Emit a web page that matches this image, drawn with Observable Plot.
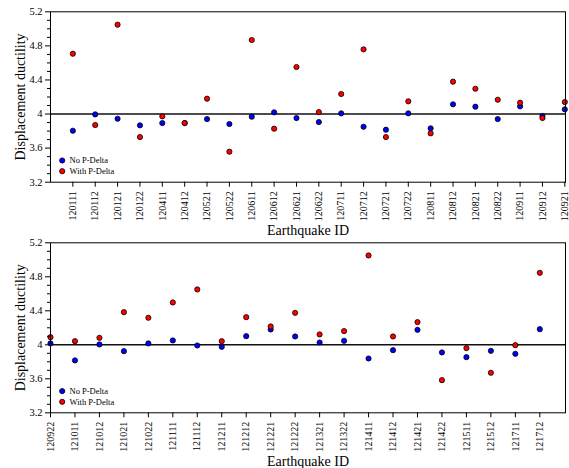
<!DOCTYPE html>
<html>
<head>
<meta charset="utf-8">
<script src="https://cdn.jsdelivr.net/npm/d3@7"></script>
<script src="https://cdn.jsdelivr.net/npm/@observablehq/plot@0.6"></script>
<style>
  body { margin: 0; background: #fff; }
  #c { position: relative; width: 569px; height: 468px; }
  #c svg { position: absolute; left: 0; background: transparent !important; overflow: visible !important; }
  #c svg, #c svg g, #c svg text { font-family: "Liberation Serif" !important; }
</style>
</head>
<body>
<div id="c"></div>
<script>
// ---- Data ----
const topIds = ["120111","120112","120121","120122","120411","120412","120521","120522","120611","120612","120621","120622","120711","120712","120721","120722","120811","120812","120821","120822","120911","120912","120921"];
const topNoPDelta = [3.804,3.996,3.945,3.867,3.894,3.894,3.941,3.883,3.969,4.020,3.953,3.906,4.008,3.851,3.816,4.008,3.832,4.114,4.086,3.941,4.090,3.977,4.055];
const topWithPDelta = [4.708,3.871,5.049,3.730,3.973,3.894,4.180,3.558,4.869,3.828,4.552,4.023,4.235,4.759,3.730,4.149,3.773,4.380,4.297,4.168,4.133,3.953,4.141];

const botIds = ["120922","121011","121012","121021","121022","121111","121112","121211","121212","121221","121222","121321","121322","121411","121412","121421","121422","121511","121512","121711","121712"];
const botNoPDelta = [4.016,3.816,4.004,3.925,4.016,4.051,3.992,3.976,4.102,4.180,4.098,4.027,4.047,3.839,3.937,4.176,3.910,3.855,3.929,3.894,4.184];
const botWithPDelta = [4.090,4.043,4.082,4.384,4.318,4.498,4.651,4.043,4.325,4.216,4.376,4.122,4.161,5.051,4.098,4.267,3.584,3.961,3.671,3.996,4.847];

const yMajor = [3.2,3.6,4,4.4,4.8,5.2];
const yMinor = [3.3,3.4,3.5,3.7,3.8,3.9,4.1,4.2,4.3,4.5,4.6,4.7,4.9,5.0,5.1];
const refValue = [4];
const seriesNames = ["No P-Delta","With P-Delta"];
const seriesColors = ["#0000ff","#ff0000"];
const yLabel = "Displacement ductility";
const xLabel = "Earthquake ID";

const FONT = "Liberation Serif";

function panel(ids, noVals, withVals, opts) {
  const noData = ids.map((id, i) => ({i, id, v: noVals[i]}));
  const withData = ids.map((id, i) => ({i, id, v: withVals[i]}));
  const idx = ids.map((d, i) => i);
  const svg = Plot.plot({
    width: 569,
    height: opts.height,
    marginTop: opts.marginTop,
    marginBottom: opts.marginBottom,
    marginLeft: 50,
    marginRight: 4,
    x: {type: "linear", domain: opts.xDomain},
    y: {domain: [3.2, 5.2]},
    marks: [
      Plot.ruleY(refValue, {stroke: "#111", strokeWidth: 1.6}),
      Plot.dot(noData, {x: "i", y: "v", r: 2.6, fill: seriesColors[0], stroke: "#000", strokeWidth: 0.8}),
      Plot.dot(withData, {x: "i", y: "v", r: 2.6, fill: seriesColors[1], stroke: "#000", strokeWidth: 0.8}),
      Plot.frame({stroke: "#000", strokeWidth: 1}),
      Plot.axisY({ticks: yMajor, tickSize: 5, tickPadding: 3, fontSize: 10.5, fontFamily: FONT, label: null, tickFormat: d => String(d)}),
      Plot.axisY({ticks: yMinor, tickSize: 3, label: null, tickFormat: () => ""}),
      Plot.axisX({ticks: idx, tickFormat: i => ids[i], tickRotate: -90, tickSize: 5, tickPadding: 4, fontSize: 10, fontFamily: FONT, label: null}),
      Plot.text([xLabel], {frameAnchor: "bottom", dy: 48.8, fontSize: 14, fontFamily: FONT, lineAnchor: "middle", textAnchor: "middle", fill: "#000"}),
      Plot.text([yLabel], {frameAnchor: "left", dx: -30, rotate: -90, fontSize: 14, fontFamily: FONT, lineAnchor: "middle", textAnchor: "middle", fill: "#000"}),
      // legend
      Plot.dot([seriesNames[0]], {frameAnchor: "bottom-left", dx: 11.7, dy: -21.7, r: 2.6, fill: seriesColors[0], stroke: "#000", strokeWidth: 0.8}),
      Plot.dot([seriesNames[1]], {frameAnchor: "bottom-left", dx: 11.7, dy: -11, r: 2.6, fill: seriesColors[1], stroke: "#000", strokeWidth: 0.8}),
      Plot.text([seriesNames[0]], {frameAnchor: "bottom-left", dx: 19, dy: -21.7, text: d => d, fontSize: 8.5, fontFamily: FONT, textAnchor: "start", lineAnchor: "middle", fill: "#000"}),
      Plot.text([seriesNames[1]], {frameAnchor: "bottom-left", dx: 19, dy: -11, text: d => d, fontSize: 8.5, fontFamily: FONT, textAnchor: "start", lineAnchor: "middle", fill: "#000"})
    ]
  });
  svg.setAttribute("font-family", FONT);
  svg.style.fontFamily = FONT;
  svg.querySelectorAll("text").forEach(t => t.setAttribute("font-family", FONT));
  return svg;
}

const c = document.getElementById("c");
const p1 = panel(topIds, topNoPDelta, topWithPDelta, {height: 240, marginTop: 11.3, marginBottom: 58.3, xDomain: [-1, 22.03]});
p1.style.top = "0px";
const p2 = panel(botIds, botNoPDelta, botWithPDelta, {height: 238, marginTop: 12.3, marginBottom: 55.7, xDomain: [0, 21.05]});
p2.style.top = "230px";
c.appendChild(p1);
c.appendChild(p2);
</script>
</body>
</html>
